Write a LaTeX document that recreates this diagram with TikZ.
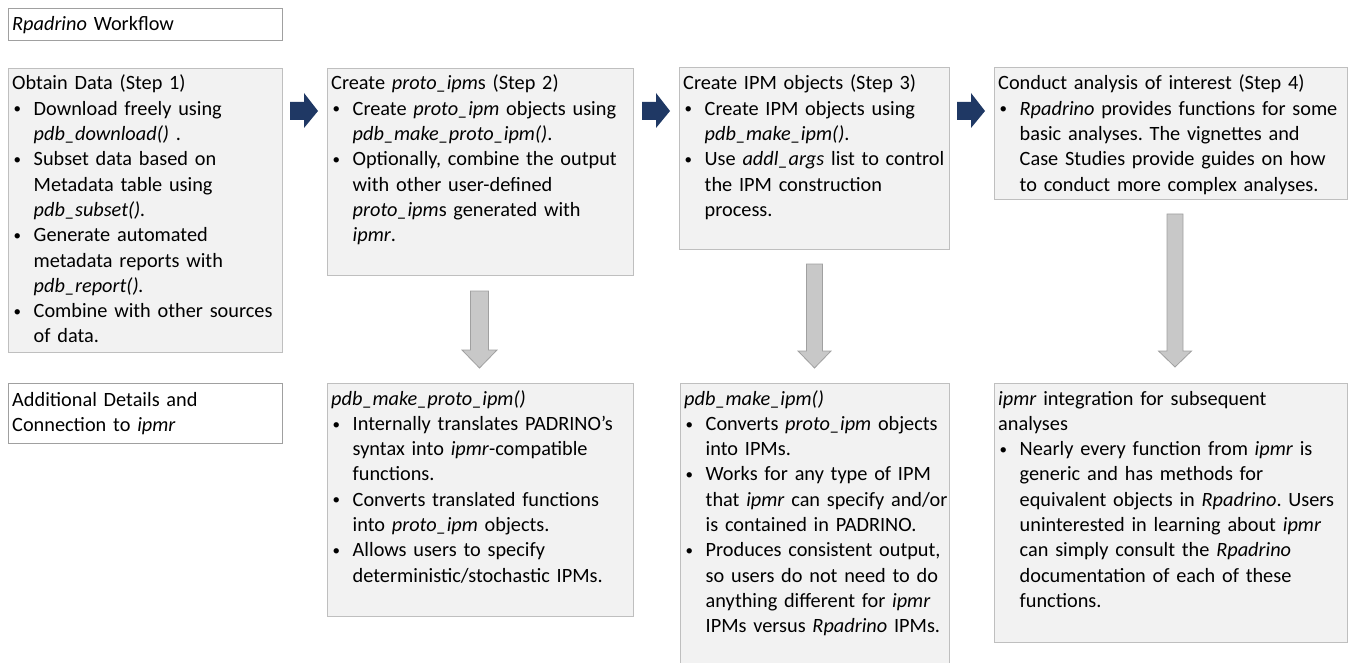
\documentclass[tikz,border=0pt]{standalone}
\usepackage{fontspec}
\setmainfont{Carlito}
\frenchspacing
\definecolor{navy}{RGB}{31,56,100}
\definecolor{boxfill}{RGB}{242,242,242}
\definecolor{boxline}{RGB}{191,191,191}
\definecolor{titleline}{RGB}{160,160,160}
\definecolor{arrfill}{RGB}{200,200,200}
\definecolor{arrline}{RGB}{160,160,160}
\newcommand\smallbullet{{\fontsize{15pt}{15pt}\selectfont\raisebox{1.3pt}{\textbullet}}}
\newcommand\bitem[1]{\par\noindent\hangindent=21.5pt\hangafter=1\makebox[21.5pt][l]{\hspace{1.5pt}\smallbullet}#1\par}
\tikzset{
  box/.style={draw=boxline, fill=boxfill, line width=0.9pt, anchor=north west, inner sep=0pt},
  titlebox/.style={draw=titleline, fill=white, line width=0.9pt, anchor=north west, inner sep=0pt},
  txt/.style={anchor=base west, inner sep=0pt, text width=420pt, font=\fontsize{20.3pt}{25.3pt}\selectfont\frenchspacing},
  rarr/.style={fill=navy},
  darr/.style={fill=arrfill, draw=arrline, line width=0.8pt},
}
\begin{document}
\begin{tikzpicture}[x=1pt,y=-1pt]
\useasboundingbox (0,0) rectangle (1349,663);
\clip (0,0) rectangle (1349,663);

% title boxes
\node[titlebox, minimum width=274pt, minimum height=32pt] (title) at (8,8) {};
\node[txt] (titletxt) at (12,31) {\textit{Rpadrino} Workflow};

\node[titlebox, minimum width=274pt, minimum height=60pt] (add) at (8,383) {};
\node[txt] (addtxt) at (12,406) {Additional Details and\newline Connection to \textit{ipmr}};

% top row boxes
\node[box, minimum width=274pt, minimum height=284pt] (b1) at (8,68) {};
\node[txt] (t1) at (12,90) {Obtain Data (Step 1)%
\bitem{Download freely using\newline \textit{pdb\_download()} .}%
\bitem{Subset data based on\newline Metadata table using\newline \textit{pdb\_subset().}}%
\bitem{Generate automated\newline metadata reports with\newline \textit{pdb\_report().}}%
\bitem{Combine with other sources\newline of data.}};

\node[box, minimum width=306pt, minimum height=207pt] (b2) at (327,68) {};
\node[txt] (t2) at (331,90) {Create \textit{proto\_ipm}s (Step 2)%
\bitem{Create \textit{proto\_ipm} objects using\newline \textit{pdb\_make\_proto\_ipm()}.}%
\bitem{Optionally, combine the output\newline with other user-defined\newline \textit{proto\_ipm}s generated with\newline \textit{ipmr}.}};

\node[box, minimum width=270pt, minimum height=182pt] (b3) at (679,67) {};
\node[txt] (t3) at (683,90) {Create IPM objects (Step 3)%
\bitem{Create IPM objects using\newline \textit{pdb\_make\_ipm()}.}%
\bitem{Use \textit{addl\_args} list to control\newline the IPM construction\newline process.}};

\node[box, minimum width=353pt, minimum height=132pt] (b4) at (994,67) {};
\node[txt] (t4) at (998,90) {Conduct analysis of interest (Step 4)%
\bitem{\textit{Rpadrino} provides functions for some\newline basic analyses. The vignettes and\newline Case Studies provide guides on how\newline to conduct more complex analyses.}};

% bottom row boxes
\node[box, minimum width=306pt, minimum height=233pt] (b5) at (327,383) {};
\node[txt] (t5) at (331,405) {\textit{pdb\_make\_proto\_ipm()}%
\bitem{Internally translates PADRINO's\newline syntax into \textit{ipmr}-compatible\newline functions.}%
\bitem{Converts translated functions\newline into \textit{proto\_ipm} objects.}%
\bitem{Allows users to specify\newline deterministic/stochastic IPMs.}};

\node[box, minimum width=269pt, minimum height=300pt] (b6) at (680,383) {};
\node[txt] (t6) at (684,405) {\textit{pdb\_make\_ipm()}%
\bitem{Converts \textit{proto\_ipm} objects\newline into IPMs.}%
\bitem{Works for any type of IPM\newline that \textit{ipmr} can specify and/or\newline is contained in PADRINO.}%
\bitem{Produces consistent output,\newline so users do not need to do\newline anything different for \textit{ipmr}\newline IPMs versus \textit{Rpadrino} IPMs.}};

\node[box, minimum width=353pt, minimum height=259pt] (b7) at (994,383) {};
\node[txt] (t7) at (998,405) {\textit{ipmr} integration for subsequent\newline analyses%
\bitem{Nearly every function from \textit{ipmr} is\newline generic and has methods for\newline equivalent objects in \textit{Rpadrino}. Users\newline uninterested in learning about \textit{ipmr}\newline can simply consult the \textit{Rpadrino}\newline documentation of each of these\newline functions.}};

% blue right arrows
\fill[rarr] (290,102) -- (304,102) -- (304,93) -- (318,111) -- (304,128) -- (304,120) -- (290,120) -- cycle;
\fill[rarr] (642,102) -- (656,102) -- (656,93) -- (670,111) -- (656,128) -- (656,120) -- (642,120) -- cycle;
\fill[rarr] (957,102) -- (971,102) -- (971,93) -- (985,111) -- (971,128) -- (971,120) -- (957,120) -- cycle;

% gray down arrows
\filldraw[darr] (470.5,291) -- (488.5,291) -- (488.5,350) -- (497,350) -- (479.5,368) -- (462,350) -- (470.5,350) -- cycle;
\filldraw[darr] (806.5,264) -- (822.5,264) -- (822.5,351) -- (831,351) -- (814.5,368) -- (798,351) -- (806.5,351) -- cycle;
\filldraw[darr] (1167,214) -- (1183,214) -- (1183,351) -- (1191.5,351) -- (1175,367) -- (1158.5,351) -- (1167,351) -- cycle;
\end{tikzpicture}
\end{document}
